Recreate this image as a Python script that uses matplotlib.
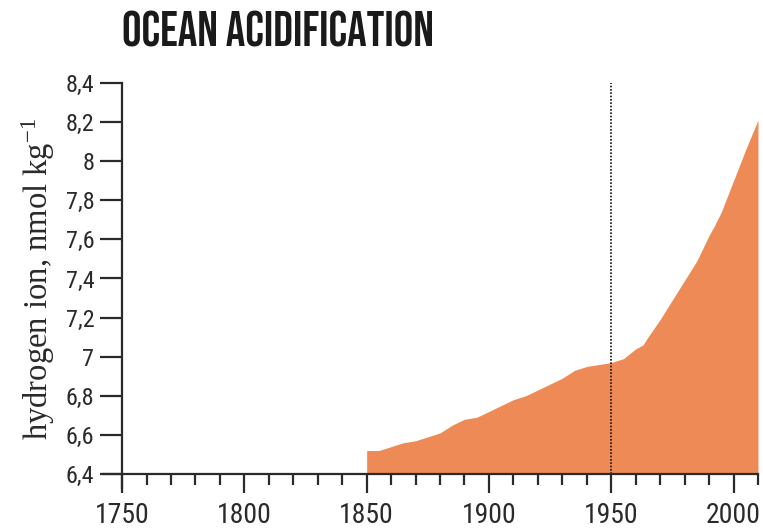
import numpy as np
import matplotlib
matplotlib.use("Agg")
import matplotlib.pyplot as plt
from matplotlib.ticker import MultipleLocator, FuncFormatter

# hydrogen ion concentration
years = [1850, 1855, 1860, 1865, 1870, 1875, 1880, 1885, 1890, 1895,
         1900, 1905, 1910, 1915, 1920, 1925, 1930, 1935, 1940, 1945,
         1950, 1955, 1960, 1963, 1965, 1970, 1975, 1980, 1985, 1990,
         1992, 1995, 2000, 2005, 2010]
h_ion = [6.52, 6.52, 6.54, 6.56, 6.57, 6.59, 6.61, 6.65, 6.68, 6.69,
         6.72, 6.75, 6.78, 6.80, 6.83, 6.86, 6.89, 6.93, 6.95, 6.96,
         6.97, 6.99, 7.04, 7.06, 7.10, 7.19, 7.29, 7.39, 7.49, 7.62,
         7.665, 7.74, 7.90, 8.06, 8.21]
y_ticks = [6.4, 6.6, 6.8, 7.0, 7.2, 7.4, 7.6, 7.8, 8.0, 8.2, 8.4]
x_ticks = [1750, 1800, 1850, 1900, 1950, 2000]

FILL = "#EE8A55"
INK = "#2a2a2a"
NARROW = ["Roboto Condensed", "Archivo Narrow", "DejaVu Sans"]
TITLE_FONT = ["Bebas Neue", "Oswald", "DejaVu Sans"]

plt.rcParams["mathtext.fontset"] = "custom"
plt.rcParams["mathtext.rm"] = "Liberation Serif"

fig = plt.figure(figsize=(7.63, 5.28), dpi=100)
ax = fig.add_axes([0.160, 0.1023, 0.8334, 0.7405])

ax.fill_between(years, 6.4, h_ion, color=FILL, linewidth=0)
ax.axvline(1950, color="#111111", linestyle=(0, (1, 1)), linewidth=1.2)

ax.set_xlim(1750, 2010)
ax.set_ylim(6.4, 8.4)

ax.set_xticks(x_ticks)
ax.xaxis.set_minor_locator(MultipleLocator(10))
ax.set_yticks(y_ticks)


def comma(v, pos):
    s = f"{v:.1f}".rstrip("0").rstrip(".")
    return s.replace(".", ",")


ax.yaxis.set_major_formatter(FuncFormatter(comma))

for side in ["top", "right"]:
    ax.spines[side].set_visible(False)
for side in ["left", "bottom"]:
    ax.spines[side].set_color(INK)
    ax.spines[side].set_linewidth(1.6)

ax.tick_params(axis="x", which="major", length=14, width=1.6, color=INK,
               direction="out", pad=6)
ax.tick_params(axis="x", which="minor", length=8, width=1.6, color=INK,
               direction="out")
ax.tick_params(axis="y", which="major", length=16, width=1.6, color=INK,
               direction="out", pad=4)

for lab in ax.get_xticklabels():
    lab.set_family(NARROW)
    lab.set_fontsize(20)
    lab.set_color(INK)
for lab in ax.get_yticklabels():
    lab.set_family(NARROW)
    lab.set_fontsize(17.5)
    lab.set_color(INK)

# axis lines run a little past the corner, as in the original
ax.plot([-0.03, 0], [0, 0], transform=ax.transAxes, color=INK,
        linewidth=1.6, clip_on=False)
ax.plot([0, 0], [-0.036, 0], transform=ax.transAxes, color=INK,
        linewidth=1.6, clip_on=False)

ax.set_ylabel("hydrogen ion, nmol kg$\\mathregular{^{-1}}$",
              family="Liberation Serif", fontsize=23.5, color=INK, labelpad=6)

fig.text(0.160, 0.945, "OCEAN ACIDIFICATION", family=TITLE_FONT,
         fontsize=35, color="#1a1a1a", va="center", ha="left")

fig.savefig("out.png", dpi=100)
